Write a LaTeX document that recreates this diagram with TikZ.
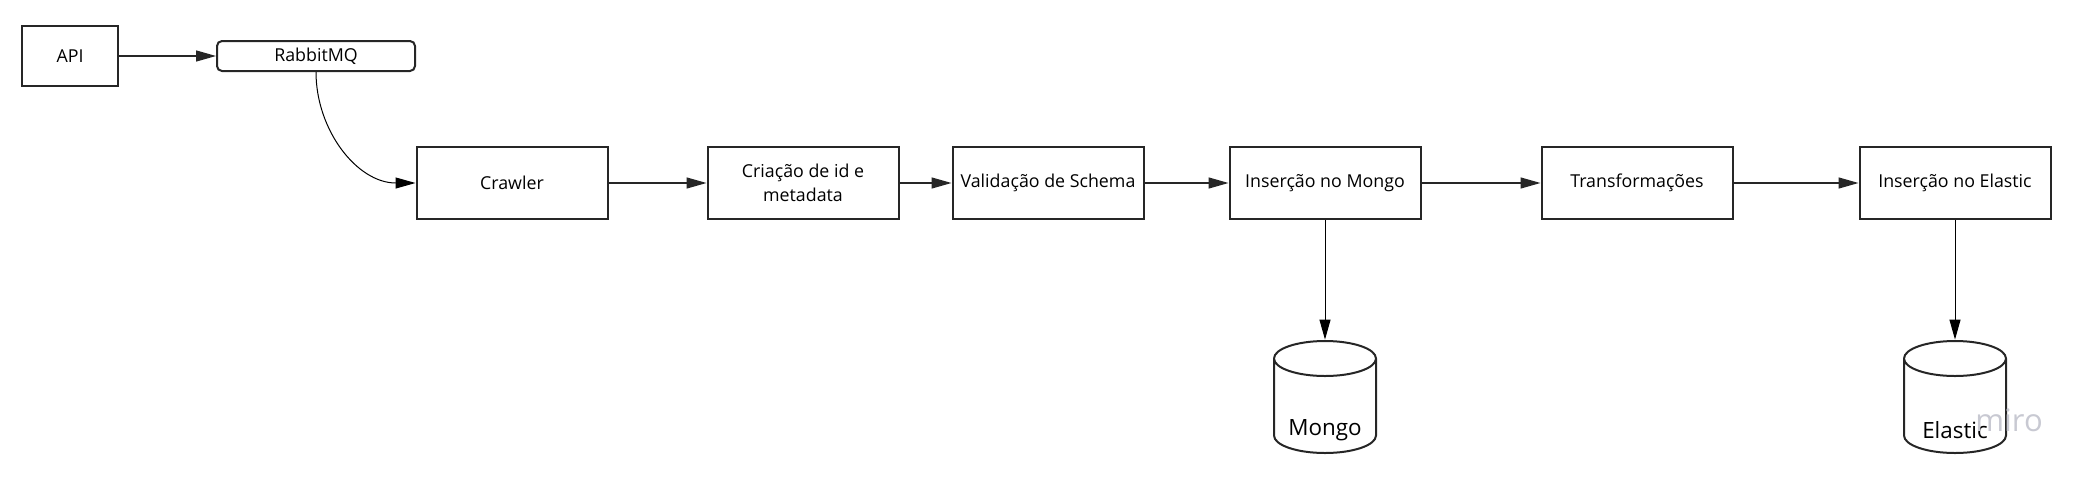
\documentclass[tikz,border=0pt]{standalone}
\usepackage{fontspec}
\setmainfont{Open Sans}
\usetikzlibrary{
  arrows.meta
}
\definecolor{watermark}{RGB}{200,201,210}

\begin{document}
\begin{tikzpicture}[
    x=0.5pt, y=-0.5pt, >={Triangle[length=10pt,width=5.5pt]},
    font=\fontsize{8.9}{12}\selectfont,
    stage/.style={
      draw=black!85,
      line width=1pt,
      fill=white,
      minimum width=95.5pt,
      minimum height=36pt,
      inner sep=1pt,
      align=center
    },
    queue/.style={
      stage,
      rounded corners=2.5pt,
      minimum width=99pt,
      minimum height=15pt
    },
    store/.style={
      minimum width=52pt,
      minimum height=57pt,
      inner sep=0pt,
      path picture={
        \draw[line width=1pt, draw=black!85]
          ([xshift=0.5pt,yshift=-9.25pt]path picture bounding box.north west)
          -- ([xshift=0.5pt,yshift=9.25pt]path picture bounding box.south west)
          arc[start angle=180, end angle=360, x radius=25.5pt, y radius=8.75pt]
          -- ([xshift=-0.5pt,yshift=-9.25pt]path picture bounding box.north east)
          arc[start angle=0, end angle=360, x radius=25.5pt, y radius=8.75pt];
      }
    },
    store label/.style={
      font=\fontsize{11.2}{13}\selectfont
    },
    flow/.style={
      ->,
      line width=0.7pt,
      draw=black!85
    },
    thin flow/.style={
      ->,
      line width=0.5pt
    }
  ]

  \useasboundingbox (0,0) rectangle (2090,478);

  % Entrada
  \node[stage, minimum width=48pt, minimum height=30pt] (api) at (70,56) {API};
  \node[queue] (rabbit) at (316,56) {RabbitMQ};

  % Pipeline
  \node[stage] (crawler) at (512,183) {Crawler};
  \node[stage] (metadata) at (803,183) {Criação de id e\\metadata};
  \node[stage] (schema) at (1048,183) {Validação de Schema};
  \node[stage] (inmongo) at (1325,183) {Inserção no Mongo};
  \node[stage] (transform) at (1637,183) {Transformações};
  \node[stage] (inelastic) at (1955,183) {Inserção no Elastic};

  % Bancos
  \node[store] (mongodb) at (1325,397) {};
  \node[store label] at (1325,430) {Mongo};
  \node[store] (elasticdb) at (1955,397) {};
  \node[store label] at (1955,430) {Elastic};

  % miro
  \node[font=\fontsize{15.5}{16}\selectfont, text=watermark] at (2009,420) {miro};

  % Setas
  \draw[flow] (api) -- (rabbit);
  \draw[thin flow] (rabbit.south) to[out=-90, in=180] (crawler.west);
  \draw[flow] (crawler) -- (metadata);
  \draw[flow] (metadata) -- (schema);
  \draw[flow] (schema) -- (inmongo);
  \draw[flow] (inmongo) -- (transform);
  \draw[flow] (transform) -- (inelastic);
  \draw[thin flow] (inmongo) -- (mongodb);
  \draw[thin flow] (inelastic) -- (elasticdb);

\end{tikzpicture}
\end{document}
